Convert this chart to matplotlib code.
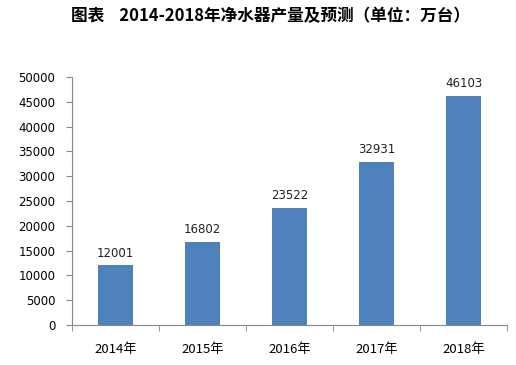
import matplotlib.pyplot as plt
import numpy as np

plt.rcParams['font.family'] = ['Noto Sans CJK SC', 'DejaVu Sans']

years = ['2014年', '2015年', '2016年', '2017年', '2018年']
output = [12001, 16802, 23522, 32931, 46103]

fig = plt.figure(figsize=(5.16, 3.65), dpi=100)
ax = fig.add_axes([72 / 516, 1 - 325 / 365, 435 / 516, 248 / 365])

x = np.arange(len(years))
ax.bar(x, output, width=0.4, color='#4F81BD', zorder=2)
for xi, v in zip(x, output):
    ax.text(xi, v + 1200, str(v), ha='center', va='bottom', fontsize=8.5,
            color='#222222', family=['DejaVu Sans'])

ax.set_xlim(-0.5, len(years) - 0.5)
ax.set_ylim(0, 50000)
ax.set_yticks(np.arange(0, 50001, 5000))
ax.set_yticklabels([str(v) for v in range(0, 50001, 5000)], family=['DejaVu Sans'])
ax.set_xticks(x)
ax.set_xticklabels(years, fontsize=9.5)
ax.set_xticks(np.arange(-0.5, len(years), 1), minor=True)
ax.tick_params(axis='x', which='major', length=0, pad=13)
ax.tick_params(axis='x', which='minor', length=4, color='#888888')
ax.tick_params(axis='y', length=4, color='#888888', labelsize=8.5, pad=8)

for s in ['top', 'right']:
    ax.spines[s].set_visible(False)
for s in ['left', 'bottom']:
    ax.spines[s].set_color('#888888')
    ax.spines[s].set_linewidth(0.8)

fig.text(0.525, 1 - 16 / 365, '图表    2014-2018年净水器产量及预测（单位：万台）',
         ha='center', va='center', fontsize=12, fontweight='bold')

fig.savefig('out.png', dpi=100)
